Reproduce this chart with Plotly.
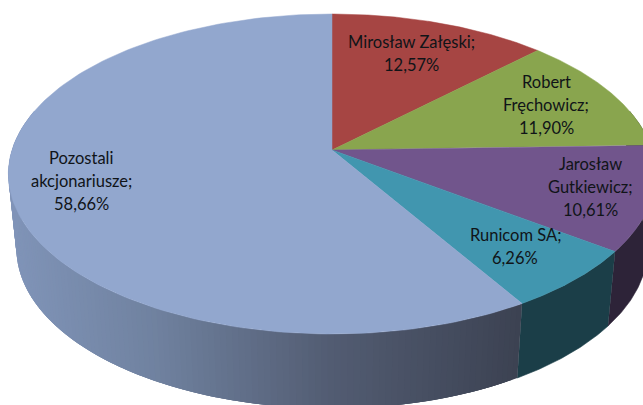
import numpy as np
import plotly.graph_objects as go

names = ["Mirosław Załęski", "Robert Fręchowicz", "Jarosław Gutkiewicz", "Runicom SA", "Pozostali akcjonariusze"]
values = [12.57, 11.90, 10.61, 6.26, 58.66]
label_lines = [["Mirosław Załęski;"], ["Robert", "Fręchowicz;"], ["Jarosław", "Gutkiewicz;"], ["Runicom SA;"], ["Pozostali", "akcjonariusze;"]]
top_colors = ["#A64543", "#89A54E", "#71558C", "#4196AF", "#92A7CE"]
wall_colors = ["#5A2221", "#46552A", "#2D2338", "#1B3E48", None]

# geometry of the perspective projection, in pixels
CX, CY, A, B, K = 332.0, 150.0, 320.0, 156.4, 0.15
DEPTH, SHRINK = 74.5, 0.975
label_xy = [(411, 42), (546, 82), (590, 164), (515, 235), (81, 158)]
LINE_H = 23


def project(t):
    u, v = np.sin(t), -np.cos(t)
    w = 1 - K * v
    return CX + A * u / w, CY + B * v / w


def bottom(x, y):
    return CX + SHRINK * (x - CX), y + DEPTH


def blue_wall(x):
    r = np.interp(x, [8, 150, 330, 520], [128, 112, 82, 60])
    g = np.interp(x, [8, 150, 330, 520], [148, 130, 92, 66])
    b = np.interp(x, [8, 150, 330, 520], [184, 160, 114, 82])
    return f"rgb({r:.0f},{g:.0f},{b:.0f})"


fig = go.Figure()
edges = np.concatenate([[0], np.cumsum(values)]) / sum(values) * 2 * np.pi

# side wall: the blue slice is painted in overlapping strips so no seams show
step = np.radians(1.0)
for i in range(len(values)):
    a0, a1 = max(edges[i], np.radians(75)), min(edges[i + 1], np.radians(285))
    if a1 <= a0:
        continue
    if wall_colors[i]:
        seg = np.linspace(a0, a1, 60)
        x, y = project(seg)
        xb, yb = bottom(x, y)
        fig.add_trace(go.Scatter(
            x=np.concatenate([x, xb[::-1]]), y=np.concatenate([y, yb[::-1]]),
            mode="lines", fill="toself", fillcolor=wall_colors[i],
            line=dict(color=wall_colors[i], width=0.6), hoverinfo="skip", showlegend=False))
        continue
    n = max(1, int(np.ceil((a1 - a0) / step)))
    ts = np.linspace(a0, a1, n + 1)
    # painted from the far end so each strip overlaps the previous one
    for t0 in ts[:-1]:
        seg = np.linspace(t0, a1 if t0 + 3 * step > a1 else t0 + 3 * step, 5)
        x, y = project(seg)
        xb, yb = bottom(x, y)
        color = blue_wall(float(x[1]))
        fig.add_trace(go.Scatter(
            x=np.concatenate([x, xb[::-1]]), y=np.concatenate([y, yb[::-1]]),
            mode="lines", fill="toself", fillcolor=color,
            line=dict(color=color, width=0), hoverinfo="skip", showlegend=False))

# top face
for i, name in enumerate(names):
    ts = np.linspace(edges[i], edges[i + 1], 160)
    x, y = project(ts)
    fig.add_trace(go.Scatter(
        x=np.concatenate([[CX], x, [CX]]), y=np.concatenate([[CY], y, [CY]]),
        mode="lines", fill="toself", fillcolor=top_colors[i],
        line=dict(color=top_colors[i], width=0.5), name=name,
        hoverinfo="name", showlegend=False))

# labels
for lines, v, (lx, ly) in zip(label_lines, values, label_xy):
    text = lines + [f"{v:.2f}%".replace(".", ",")]
    for j, line in enumerate(text):
        fig.add_annotation(x=lx, y=ly + j * LINE_H, text=line, showarrow=False,
                           xanchor="center", yanchor="middle",
                           font=dict(family="Lato", size=16.5, color="#101418"))

fig.update_layout(
    width=643, height=405, margin=dict(l=0, r=0, t=0, b=0),
    paper_bgcolor="white", plot_bgcolor="white",
    xaxis=dict(range=[0, 643], visible=False, fixedrange=True),
    yaxis=dict(range=[405, 0], visible=False, fixedrange=True),
)
fig.write_html("out.html", config={"displayModeBar": False},
               post_script="document.body.style.margin='0';document.body.style.overflow='hidden';")
